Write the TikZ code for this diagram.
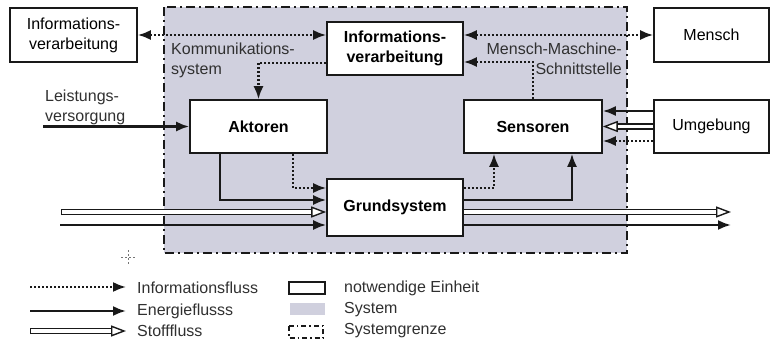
\documentclass[tikz,border=0pt]{standalone}
\usepackage{fontspec}
\setmainfont{Liberation Sans}
\usetikzlibrary{arrows.meta}
\definecolor{sysfill}{RGB}{208,208,222}
\definecolor{ink}{RGB}{25,25,25}
\tikzset{
  unit/.style={draw=ink, line width=1.6pt, fill=white, inner sep=0pt, align=center,
    font=\fontsize{16}{20}\selectfont},
  unitbold/.style={unit, font=\fontsize{16}{20}\selectfont\bfseries},
  lbl/.style={inner sep=0pt, font=\fontsize{16}{20}\selectfont, text=ink!90},
  tip/.style={Latex[length=13pt,width=10pt]},
  infoflow/.style={draw=ink, line width=2.1pt, dash pattern=on 2pt off 2pt,
    -{Latex[length=13pt,width=10pt]}},
  infoboth/.style={infoflow, {Latex[length=13pt,width=10pt]}-{Latex[length=13pt,width=10pt]}},
  energyflow/.style={draw=ink, line width=2.2pt, -{Latex[length=13pt,width=10pt]}},
  stoffbase/.style={draw=ink, line width=1.4pt, double=white, double distance=3.4pt},
  stoffflow/.style={stoffbase,
    {Bar[width=6.2pt,line width=1.4pt]}-{Triangle[open,fill=white,length=15pt,width=11pt,line width=1.4pt]}},
  stoffopen/.style={stoffbase, -{Triangle[open,fill=white,length=15pt,width=11pt,line width=1.4pt]}},
  sysborder/.style={draw=ink, line width=1.8pt, dash pattern=on 9pt off 4pt on 2pt off 4pt}
}
\begin{document}
\begin{tikzpicture}[x=1pt,y=-1pt]
\useasboundingbox (0,0) rectangle (771,345);

% system area with its boundary
\fill[sysfill] (164,7) rectangle (627,253);
\draw[sysborder] (164,7) rectangle (627,253);

% units
\node[unit, minimum width=127pt, minimum height=54pt] (infoL) at (73.5,35) {Informations-\\verarbeitung};
\node[unitbold, minimum width=136pt, minimum height=53pt] (infoC) at (395,48.5) {Informations-\\verarbeitung};
\node[unit, minimum width=115pt, minimum height=54pt] (mensch) at (711.5,35) {Mensch};
\node[unitbold, minimum width=137pt, minimum height=53pt] (aktoren) at (258.5,126.5) {Aktoren};
\node[unitbold, minimum width=138pt, minimum height=53pt] (sensoren) at (533,126.5) {Sensoren};
\node[unit, minimum width=115pt, minimum height=53pt] (umgebung) at (711.5,126.5) {Umgebung};
\node[unitbold, minimum width=136pt, minimum height=57pt] (grund) at (395,207.5) {Grundsystem};

% labels
\node[lbl, anchor=north west, align=left] (komm) at (171,43) {Kommunikations-\\system};
\node[lbl, anchor=north west, align=left] (leist) at (45,90) {Leistungs-\\versorgung};
\node[lbl, anchor=north east, align=right] (mms) at (622,43) {Mensch-Maschine-\\Schnittstelle};

% information flows
\draw[infoboth] (infoL.east) -- (infoL.east -| infoC.west);
\draw[infoboth] (infoC.east |- mensch.west) -- (mensch.west);
\draw[infoflow] ([yshift=-14.5pt]infoC.west) -| (aktoren.north);
\draw[infoflow] (sensoren.north) |- ([yshift=-13.5pt]infoC.east);
\draw[infoflow] ([yshift=-14.5pt]umgebung.west) -- ([yshift=-14.5pt]sensoren.east);
\draw[infoflow] ([xshift=34.5pt]aktoren.south) |- ([yshift=19.5pt]grund.west);
\draw[infoflow] ([yshift=19.5pt]grund.east) -| ([xshift=-39pt]sensoren.south);

% energy flows
\coordinate (lvin) at (43,126.5);
\draw[energyflow] (lvin) -- (aktoren.west);
\draw[energyflow] ([yshift=15.5pt]umgebung.west) -- ([yshift=15.5pt]sensoren.east);
\draw[energyflow] ([xshift=-38.5pt]aktoren.south) |- ([yshift=7.5pt]grund.west);
\draw[energyflow] ([yshift=7.5pt]grund.east) -| ([xshift=39pt]sensoren.south);
\coordinate (ein) at (60,225);
\coordinate (eout) at (731,225);
\draw[energyflow] (ein) -- (ein -| grund.west);
\draw[energyflow] ([yshift=-17.5pt]grund.east) -- (eout);

% material flows
\coordinate (sin) at (61,212);
\coordinate (sout) at (731,212);
\draw[stoffflow] (sin) -- (sin -| grund.west);
\draw[stoffopen] ([yshift=-4.5pt]grund.east) -- (sout);
\draw[stoffopen] (umgebung.west) -- (sensoren.east);

% cursor mark
\coordinate (cur) at (128,257);
\draw[ink!60, line width=0.7pt, dash pattern=on 2pt off 2pt] ([xshift=-7pt]cur) -- ([xshift=7pt]cur);
\draw[ink!60, line width=0.7pt, dash pattern=on 2pt off 2pt] ([yshift=7pt]cur) -- ([yshift=-7pt]cur);

% legend
\coordinate (l1a) at (30,287); \coordinate (l1b) at (126,287);
\coordinate (l2a) at (30,311); \coordinate (l2b) at (126,311);
\coordinate (l3a) at (30,331); \coordinate (l3b) at (126,331);
\draw[infoflow] (l1a) -- (l1b);
\draw[energyflow] (l2a) -- (l2b);
\draw[stoffflow] (l3a) -- (l3b);
\node[lbl, anchor=west] (t1) at (137,288) {Informationsfluss};
\node[lbl, anchor=west] (t2) at (137,311) {Energieflusss};
\node[lbl, anchor=west] (t3) at (137,331) {Stofffluss};
\draw[ink, line width=1.5pt] (289,282) rectangle (325,294);
\fill[sysfill] (290,303) rectangle (325,315);
\draw[ink, line width=1.2pt, dash pattern=on 5pt off 3pt on 1.5pt off 3pt] (289,326) rectangle (323,338);
\node[lbl, anchor=west] (t4) at (344,288) {notwendige Einheit};
\node[lbl, anchor=west] (t5) at (344,310) {System};
\node[lbl, anchor=west] (t6) at (344,331) {Systemgrenze};
\end{tikzpicture}
\end{document}
